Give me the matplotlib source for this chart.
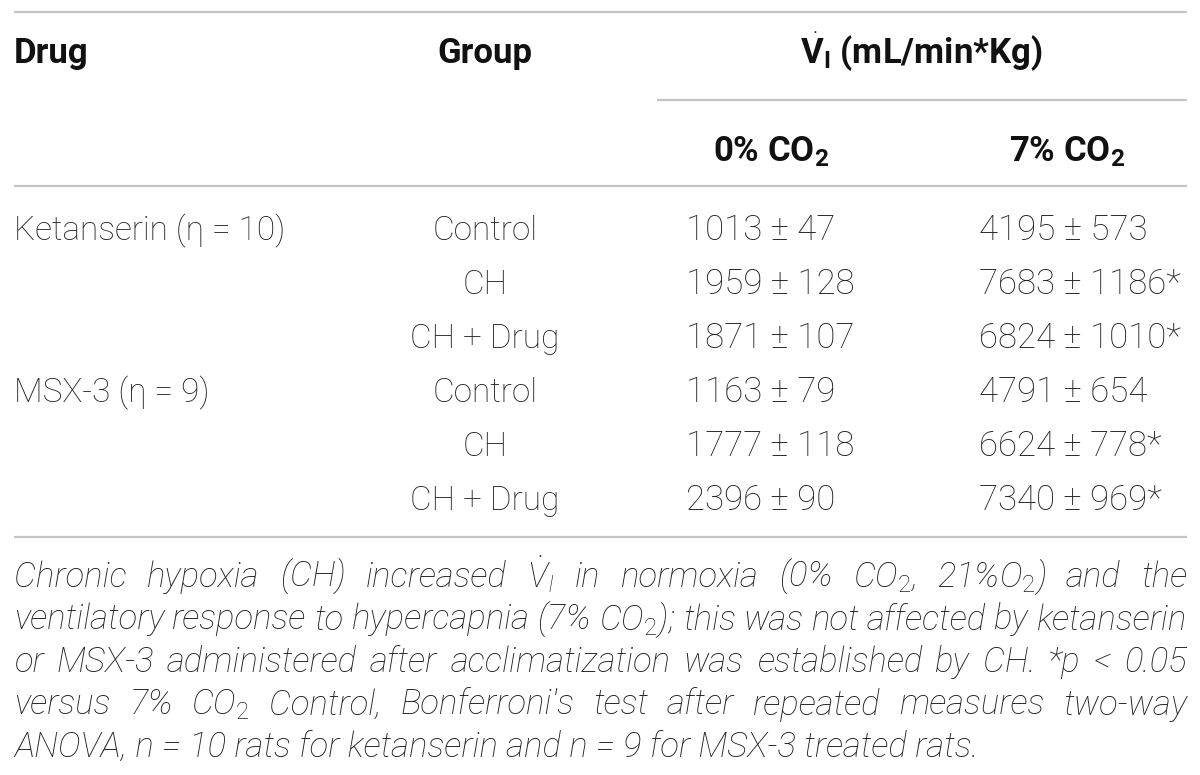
import matplotlib
matplotlib.use("Agg")
import matplotlib.pyplot as plt

# table values
drug_names = ["Ketanserin (\u03b7 = 10)", "MSX-3 (\u03b7 = 9)"]
groups = ["Control", "CH", "CH + Drug", "Control", "CH", "CH + Drug"]
co2_0_mean = [1013, 1959, 1871, 1163, 1777, 2396]
co2_0_sem = [47, 128, 107, 79, 118, 90]
co2_7_mean = [4195, 7683, 6824, 4791, 6624, 7340]
co2_7_sem = [573, 1186, 1010, 654, 778, 969]
co2_7_sig = [False, True, True, False, True, True]

footnote = [
    r"Chronic hypoxia (CH) increased $\dot{V}_I$ in normoxia (0% CO$_\mathit{2}$, 21%O$_\mathit{2}$) and the",
    r"ventilatory response to hypercapnia (7% CO$_\mathit{2}$); this was not affected by ketanserin",
    r"or MSX-3 administered after acclimatization was established by CH. *p < 0.05",
    r"versus 7% CO$_\mathit{2}$ Control, Bonferroni's test after repeated measures two-way",
    r"ANOVA, n = 10 rats for ketanserin and n = 9 for MSX-3 treated rats.",
]

plt.rcParams['font.family'] = 'Roboto'
plt.rcParams['mathtext.fontset'] = 'custom'
plt.rcParams['mathtext.rm'] = 'Roboto:light'
plt.rcParams['mathtext.it'] = 'Roboto:italic:light'
plt.rcParams['mathtext.bf'] = 'Roboto:bold'

txt = '#222222'
hdr = '#111111'
rule = '#c4c4c4'
left, right = 14, 1187

fig = plt.figure(figsize=(12, 7.75), dpi=100)
ax = fig.add_axes([0, 0, 1, 1])
ax.set_xlim(0, 1200)
ax.set_ylim(775, 0)
ax.axis('off')

# rules
ax.hlines([12, 186, 537], left, right, color=rule, lw=1.6)
ax.hlines(100, 657, right, color=rule, lw=1.6)

# header
hkw = dict(size=25, weight='bold', color=hdr, va='baseline')
ax.text(left, 63, "Drug", ha='left', **hkw)
ax.text(485, 63, "Group", ha='center', **hkw)
ax.text(921, 63, r"$\dot{\mathbf{V}}_\mathbf{I}$ (mL/min*Kg)", ha='center', **hkw)
ax.text(771, 161, r"0% CO$_\mathbf{2}$", ha='center', **hkw)
ax.text(1067, 161, r"7% CO$_\mathbf{2}$", ha='center', **hkw)

# body
bkw = dict(size=24, weight='light', color=txt, va='baseline')
nkw = dict(bkw, size=25)
row_y0, row_dy = 240, 54
for i in range(len(groups)):
    y = row_y0 + row_dy * i
    if i % 3 == 0:
        ax.text(left, y, drug_names[i // 3], ha='left', **bkw)
    ax.text(485, y, groups[i], ha='center', **bkw)
    ax.text(686, y, f"{co2_0_mean[i]} \u00b1 {co2_0_sem[i]}", ha='left', **nkw)
    star = "*" if co2_7_sig[i] else ""
    ax.text(979, y, f"{co2_7_mean[i]} \u00b1 {co2_7_sem[i]}{star}", ha='left', **nkw)

# footnote, justified except the last line
fkw = dict(size=25, style='italic', weight='light', color=txt, va='baseline')
renderer = fig.canvas.get_renderer()
foot_y0, foot_dy = 587, 42.5
for j, line in enumerate(footnote):
    y = foot_y0 + foot_dy * j
    if j == len(footnote) - 1:
        ax.text(left, y, line, ha='left', **fkw)
        continue
    words = line.split(" ")
    items = [ax.text(0, y, w, ha='left', **fkw) for w in words]
    widths = [t.get_window_extent(renderer).width for t in items]
    gap = (right - left - sum(widths)) / (len(words) - 1)
    x = left
    for t, w in zip(items, widths):
        t.set_x(x)
        x += w + gap

fig.savefig("out.png", dpi=100)
